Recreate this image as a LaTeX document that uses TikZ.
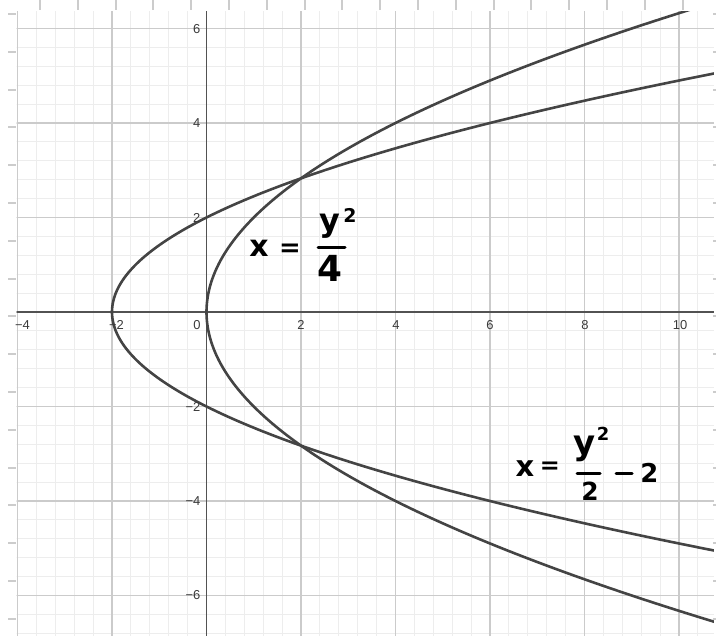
\documentclass[tikz,border=0pt]{standalone}
\usepackage{fontspec}
\setmainfont{Liberation Sans}
\newfontfamily\handfont{DejaVu Sans}
\newcommand\hwsize[1]{\fontsize{#1}{#1}\selectfont\handfont\bfseries}
\definecolor{minorc}{HTML}{EDEDED}
\definecolor{majorc}{HTML}{CBCBCB}
\definecolor{axisc}{HTML}{525252}
\definecolor{curvec}{HTML}{444444}
\definecolor{labc}{HTML}{3A3A3A}
\definecolor{rulerc}{HTML}{CCCCCC}
\begin{document}
\begin{tikzpicture}[x=1bp,y=-1bp,
  minorline/.style={draw=minorc, line width=0.9bp},
  majorline/.style={draw=majorc, line width=1.5bp},
  axisline/.style={draw=axisc, line width=1.6bp},
  curveline/.style={draw=curvec, line width=2.6bp},
  rulertick/.style={draw=rulerc, line width=2bp},
  ticklab/.style={font=\fontsize{13}{15}\selectfont, text=labc, inner sep=0pt},
  hand/.style={text=black, inner sep=0pt},
  handbar/.style={draw=black, line width=3bp, line cap=round}
]
\useasboundingbox (0,0) rectangle (716,636);
% ruler ticks
\foreach \k in {0,...,17} \draw[rulertick] ({40+37.8*\k},0) -- ++(0,10);
\foreach \k in {0,...,16} \draw[rulertick] (8,{14+37.8*\k}) -- ++(8,0);
\foreach \k in {0,...,16} \draw[rulertick] (713,{14+37.8*\k}) -- ++(3,0);
% plot
\begin{scope}[shift={(206.5,312)}, x=47.25bp, y=47.25bp]
  \clip (-4.02,-6.9) rectangle (10.74,6.37);
  \foreach \i in {-10,...,27} \draw[minorline] ({\i*0.4},-7) -- ({\i*0.4},6.5);
  \foreach \j in {-17,...,16} \draw[minorline] (-4.5,{\j*0.4}) -- (11,{\j*0.4});
  \foreach \i in {-4,-2,...,10} \draw[majorline] (\i,-7) -- (\i,6.5);
  \foreach \j in {-6,-4,...,6} \draw[majorline] (-4.5,\j) -- (11,\j);
  \coordinate (xl) at (-4.1,0);
  \coordinate (xr) at (11,0);
  \coordinate (yb) at (0,-7);
  \coordinate (yt) at (0,6.5);
  \draw[axisline] (xl) -- (xr);
  \draw[axisline] (yb) -- (yt);
  \draw[curveline] plot[domain=-7:7, samples=200, variable=\t] ({\t*\t/4},{\t});
  \draw[curveline] plot[domain=-5.3:5.3, samples=200, variable=\t] ({\t*\t/2-2},{\t});
\end{scope}
% x tick labels
\node[ticklab] (lxm4) at (22.5,325) {−4};
\node[ticklab] (lxm2) at (116.5,325) {−2};
\node[ticklab] (lx0) at (197,325) {0};
\node[ticklab] (lx2) at (301,325) {2};
\node[ticklab] (lx4) at (396,325) {4};
\node[ticklab] (lx6) at (490,325) {6};
\node[ticklab] (lx8) at (585,325) {8};
\node[ticklab] (lx10) at (680,325) {10};
% y tick labels
\node[ticklab, anchor=east] (ly6) at (200.5,29.5) {6};
\node[ticklab, anchor=east] (ly4) at (200.5,123.5) {4};
\node[ticklab, anchor=east] (ly2) at (200.5,217.5) {2};
\node[ticklab, anchor=east] (lym2) at (200.5,406.5) {−2};
\node[ticklab, anchor=east] (lym4) at (200.5,501) {−4};
\node[ticklab, anchor=east] (lym6) at (200.5,595.5) {−6};
% handwritten label 1
\node[hand, font=\hwsize{30}] (ax) at (259,248.5) {x};
\node[hand, font=\hwsize{26}] (aeq) at (290,250) {=};
\node[hand, font=\hwsize{32}] (ay) at (330,226) {y};
\node[hand, font=\hwsize{19}] (asup) at (350,215) {2};
\coordinate (ab1) at (318,247.5);
\coordinate (ab2) at (345,247.5);
\draw[handbar] (ab1) -- (ab2);
\node[hand, font=\hwsize{36}] (afour) at (330,268.5) {4};
% handwritten label 2
\node[hand, font=\hwsize{29}] (bx) at (525,468.5) {x};
\node[hand, font=\hwsize{24}] (beq) at (550,468) {=};
\node[hand, font=\hwsize{34}] (by) at (585,449) {y};
\node[hand, font=\hwsize{18}] (bsup) at (603,433.5) {2};
\coordinate (bb1) at (577,473);
\coordinate (bb2) at (600,473);
\draw[handbar] (bb1) -- (bb2);
\node[hand, font=\hwsize{25}] (bden) at (590,491) {2};
\coordinate (bm1) at (616,473);
\coordinate (bm2) at (632,473);
\draw[handbar] (bm1) -- (bm2);
\node[hand, font=\hwsize{26}] (btwo) at (649.5,472.5) {2};
\end{tikzpicture}
\end{document}
